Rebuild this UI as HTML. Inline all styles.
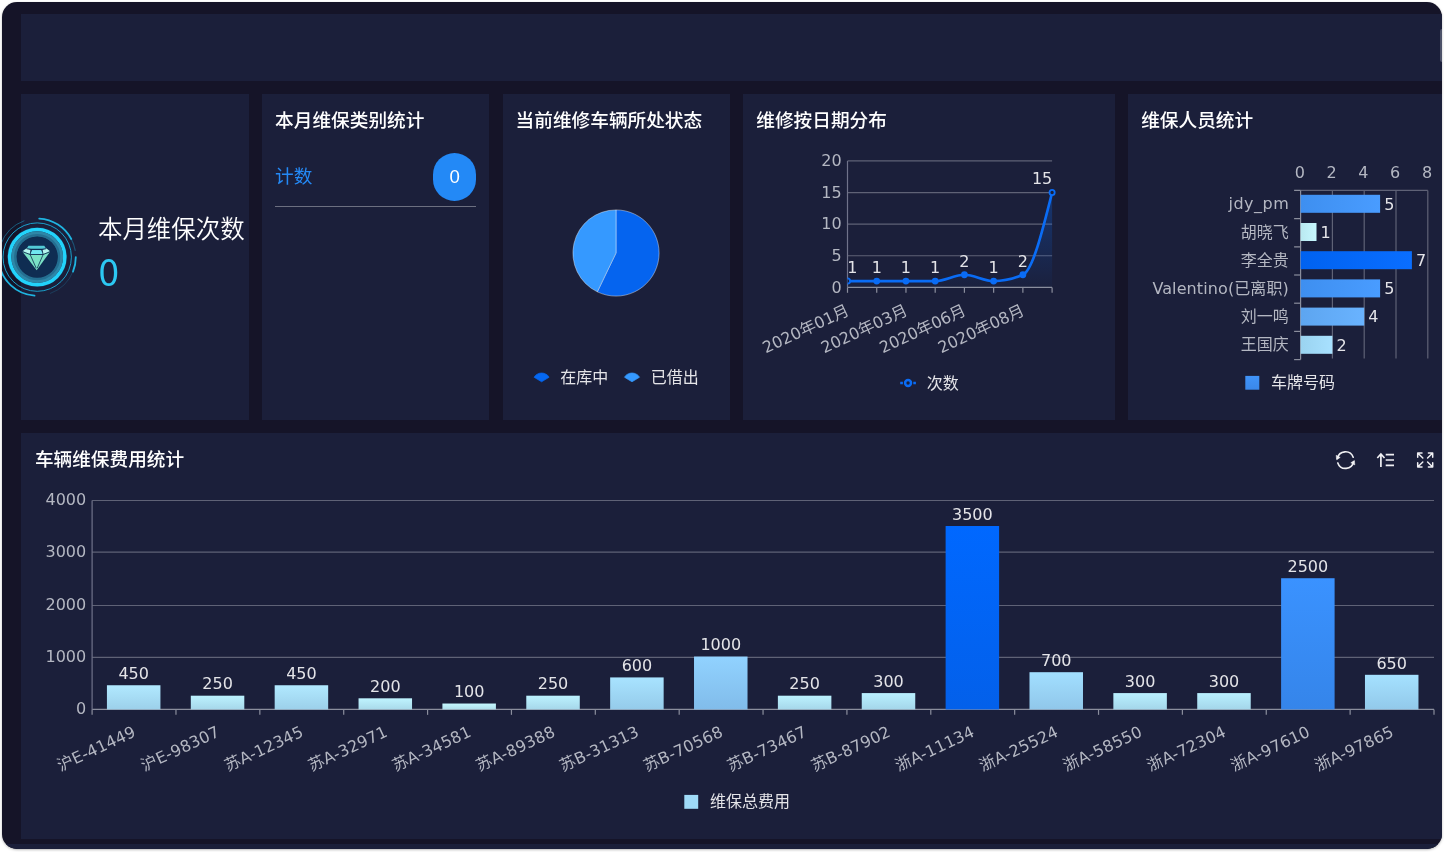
<!DOCTYPE html>
<html lang="zh-CN">
<head>
<meta charset="utf-8">
<title>车辆维保看板</title>
<style>
html,body{margin:0;padding:0;}
body{width:1444px;height:852px;overflow:hidden;background:#fff;position:relative;font-family:"Liberation Sans","Noto Sans CJK SC",sans-serif;}
#win{position:absolute;left:2.3px;top:2px;width:1439.6px;height:846.8px;border-radius:15px;background:#151428;overflow:hidden;box-shadow:0 1px 2.5px rgba(0,0,0,.28);}
#inner{position:absolute;left:-2.3px;top:-2px;width:1444px;height:852px;}
.p{position:absolute;background:#1b1f3a;}
.t{position:absolute;color:#fff;font-weight:500;font-size:18.67px;line-height:26px;white-space:nowrap;font-family:"Liberation Sans","Noto Sans CJK SC",sans-serif;}
svg{position:absolute;left:0;top:0;}
svg text{font-family:"DejaVu Sans","Noto Sans CJK SC",sans-serif;}
</style>
</head>
<body>
<div id="win"><div id="inner">
<div class="p" style="left:21px;top:14.2px;width:1423px;height:66.5px"></div>
<div class="p" style="left:21px;top:93.8px;width:227.7px;height:326.1px"></div>
<div class="p" style="left:262px;top:93.8px;width:227.2px;height:326.1px"></div>
<div class="p" style="left:502.5px;top:93.8px;width:227.2px;height:326.1px"></div>
<div class="p" style="left:743.2px;top:93.8px;width:371.7px;height:326.1px"></div>
<div class="p" style="left:1127.9px;top:93.8px;width:317px;height:326.1px"></div>
<div class="p" style="left:21px;top:433.2px;width:1423px;height:405.6px"></div>
<div class="p" style="left:0;top:843.5px;width:1444px;height:10px"></div>
<div style="position:absolute;left:1439.8px;top:29.3px;width:4px;height:32.3px;border-radius:2px;background:#4d5269"></div>

<div class="t" style="left:275.1px;top:108.1px">本月维保类别统计</div>
<div class="t" style="left:515.6px;top:108.1px">当前维修车辆所处状态</div>
<div class="t" style="left:756.3px;top:108.1px">维修按日期分布</div>
<div class="t" style="left:1141.2px;top:108.1px">维保人员统计</div>
<div class="t" style="left:34.9px;top:447.3px">车辆维保费用统计</div>

<div style="position:absolute;left:98px;top:213.1px;font-size:24.45px;line-height:34px;color:#fff;white-space:nowrap;font-weight:350">本月维保次数</div>
<div style="position:absolute;left:98.4px;top:242.5px;font-size:37px;line-height:54px;color:#2cc8f2;white-space:nowrap;font-family:'Noto Sans CJK SC',sans-serif;font-weight:400">0</div>

<div style="position:absolute;left:275.1px;top:163.9px;font-size:18.67px;line-height:26px;color:#2489f5;white-space:nowrap">计数</div>
<div style="position:absolute;left:433.2px;top:152.5px;width:42.8px;height:48.2px;border-radius:24px;background:#2389f6;color:#fff;font-size:18.67px;line-height:48.2px;text-align:center">0</div>
<div style="position:absolute;left:275.1px;top:206px;width:201px;height:1px;background:#6c6f80"></div>

<svg width="1444" height="852" viewBox="0 0 1444 852">
<defs>
<linearGradient id="ar" x1="0" y1="0" x2="0" y2="1"><stop offset="0" stop-color="#0a6cf5" stop-opacity="0.30"/><stop offset="1" stop-color="#0a6cf5" stop-opacity="0.02"/></linearGradient>
<clipPath id="lc"><rect x="847.5" y="154.9" width="209.1" height="132.5"/></clipPath>
<linearGradient id="hb0" x1="0" y1="0" x2="1" y2="0"><stop offset="0" stop-color="#3e8ff0"/><stop offset="1" stop-color="#499cff"/></linearGradient>
<linearGradient id="hb1" x1="0" y1="0" x2="1" y2="0"><stop offset="0" stop-color="#b9e9f0"/><stop offset="1" stop-color="#c7f8ff"/></linearGradient>
<linearGradient id="hb2" x1="0" y1="0" x2="1" y2="0"><stop offset="0" stop-color="#0062f0"/><stop offset="1" stop-color="#0a6eff"/></linearGradient>
<linearGradient id="hb3" x1="0" y1="0" x2="1" y2="0"><stop offset="0" stop-color="#3e8ff0"/><stop offset="1" stop-color="#499cff"/></linearGradient>
<linearGradient id="hb4" x1="0" y1="0" x2="1" y2="0"><stop offset="0" stop-color="#5da5f0"/><stop offset="1" stop-color="#69b3ff"/></linearGradient>
<linearGradient id="hb5" x1="0" y1="0" x2="1" y2="0"><stop offset="0" stop-color="#9ad3f0"/><stop offset="1" stop-color="#a8e1ff"/></linearGradient>
<linearGradient id="hbl" x1="0" y1="0" x2="0" y2="1"><stop offset="0" stop-color="#4093f8"/><stop offset="1" stop-color="#3a88ea"/></linearGradient>
<linearGradient id="vb0" x1="0" y1="0" x2="0" y2="1"><stop offset="0" stop-color="#b1e9ff"/><stop offset="1" stop-color="#9cd0ea"/></linearGradient>
<linearGradient id="vb1" x1="0" y1="0" x2="0" y2="1"><stop offset="0" stop-color="#bcf2ff"/><stop offset="1" stop-color="#a6d7ea"/></linearGradient>
<linearGradient id="vb2" x1="0" y1="0" x2="0" y2="1"><stop offset="0" stop-color="#b1e9ff"/><stop offset="1" stop-color="#9cd0ea"/></linearGradient>
<linearGradient id="vb3" x1="0" y1="0" x2="0" y2="1"><stop offset="0" stop-color="#bff4ff"/><stop offset="1" stop-color="#a9d9ea"/></linearGradient>
<linearGradient id="vb4" x1="0" y1="0" x2="0" y2="1"><stop offset="0" stop-color="#c5f8ff"/><stop offset="1" stop-color="#aeddea"/></linearGradient>
<linearGradient id="vb5" x1="0" y1="0" x2="0" y2="1"><stop offset="0" stop-color="#bcf2ff"/><stop offset="1" stop-color="#a6d7ea"/></linearGradient>
<linearGradient id="vb6" x1="0" y1="0" x2="0" y2="1"><stop offset="0" stop-color="#a8e3ff"/><stop offset="1" stop-color="#95cbea"/></linearGradient>
<linearGradient id="vb7" x1="0" y1="0" x2="0" y2="1"><stop offset="0" stop-color="#91d2ff"/><stop offset="1" stop-color="#81bcea"/></linearGradient>
<linearGradient id="vb8" x1="0" y1="0" x2="0" y2="1"><stop offset="0" stop-color="#bcf2ff"/><stop offset="1" stop-color="#a6d7ea"/></linearGradient>
<linearGradient id="vb9" x1="0" y1="0" x2="0" y2="1"><stop offset="0" stop-color="#b9f0ff"/><stop offset="1" stop-color="#a4d6ea"/></linearGradient>
<linearGradient id="vb10" x1="0" y1="0" x2="0" y2="1"><stop offset="0" stop-color="#0068ff"/><stop offset="1" stop-color="#0360ea"/></linearGradient>
<linearGradient id="vb11" x1="0" y1="0" x2="0" y2="1"><stop offset="0" stop-color="#a2dfff"/><stop offset="1" stop-color="#90c7ea"/></linearGradient>
<linearGradient id="vb12" x1="0" y1="0" x2="0" y2="1"><stop offset="0" stop-color="#b9f0ff"/><stop offset="1" stop-color="#a4d6ea"/></linearGradient>
<linearGradient id="vb13" x1="0" y1="0" x2="0" y2="1"><stop offset="0" stop-color="#b9f0ff"/><stop offset="1" stop-color="#a4d6ea"/></linearGradient>
<linearGradient id="vb14" x1="0" y1="0" x2="0" y2="1"><stop offset="0" stop-color="#3a92ff"/><stop offset="1" stop-color="#3585ea"/></linearGradient>
<linearGradient id="vb15" x1="0" y1="0" x2="0" y2="1"><stop offset="0" stop-color="#a5e1ff"/><stop offset="1" stop-color="#92c9ea"/></linearGradient>
</defs>
<g transform="translate(37.2,257.1)">
<path d="M2.02 -38.55A38.6 38.6 0 0 1 34.08 -18.12" fill="none" stroke="#1fb4e0" stroke-width="1.8" stroke-linecap="round" opacity="1"/>
<path d="M34.08 -18.12A38.6 38.6 0 0 1 38.01 -6.7" fill="none" stroke="#1fb4e0" stroke-width="1.2" stroke-linecap="round" opacity="0.35"/>
<path d="M38.6 -0A38.6 38.6 0 0 1 35.79 14.46" fill="none" stroke="#1fb4e0" stroke-width="1.8" stroke-linecap="round" opacity="1"/>
<path d="M35.79 14.46A38.6 38.6 0 0 1 13.2 36.27" fill="none" stroke="#1fb4e0" stroke-width="1.0" stroke-linecap="round" opacity="0.2"/>
<path d="M-2.69 38.51A38.6 38.6 0 0 1 -38.22 5.37" fill="none" stroke="#1fb4e0" stroke-width="1.8" stroke-linecap="round" opacity="1"/>
<path d="M-36.27 -13.2A38.6 38.6 0 0 1 -13.2 -36.27" fill="none" stroke="#1fb4e0" stroke-width="1.0" stroke-linecap="round" opacity="0.45"/>
<circle r="34.2" fill="none" stroke="#1a9fca" stroke-width="1"/>
<circle r="30" fill="#16304f"/>
<circle r="27.6" fill="none" stroke="#22d3fb" stroke-width="3.6"/>
<circle r="23.2" fill="none" stroke="#2d87a8" stroke-width="5.4"/>
<circle r="21.8" fill="none" stroke="#246f91" stroke-width="2.6"/>
<circle r="20.6" fill="#0f2d52"/>
<polygon points="-14.7,-5.38 12.92,-5.38 -0.51,13.11" fill="#7ae2c6"/>
<polygon points="-8.74,-11.34 7.09,-11.34 9,-8.43 -10.64,-8.43" fill="#52cbd6"/>
<polygon points="-10.64,-8.93 -6.33,-7.41 -7.22,-2.98 -14.7,-5.76" fill="#b4f6ee"/>
<polygon points="9,-8.93 4.94,-7.41 5.83,-2.98 12.92,-5.76" fill="#b4f6ee"/>
<polygon points="-5.38,-7.03 4.24,-7.03 5.19,-3.1 -6.33,-3.1" fill="#70e6f0"/>
<path d="M-14.57,-5.38L-7.09,-2.6L5.95,-2.6L12.92,-5.38" fill="none" stroke="#0f2d52" stroke-width="0.9"/>
<path d="M-7.09,-2.6L-1.01,11.09M0,11.09L5.95,-2.6" fill="none" stroke="#0f2d52" stroke-width="0.8"/>
<path d="M-10.64,-8.43L-6.02,-7.54L4.75,-7.54L9,-8.43M-6.02,-7.54L-7.09,-2.6M4.75,-7.54L5.95,-2.6" fill="none" stroke="#0f2d52" stroke-width="0.9"/>
</g>
<path d="M616 253L616 209.9A43.1 43.1 0 1 1 597.3 291.83Z" fill="#0564ef" stroke="rgba(255,255,255,0.45)" stroke-width="0.9" stroke-linejoin="round"/>
<path d="M616 253L597.3 291.83A43.1 43.1 0 0 1 616 209.9Z" fill="#3599ff" stroke="rgba(255,255,255,0.45)" stroke-width="0.9" stroke-linejoin="round"/>
<path d="M541.6 381.8L534.09 377.22A8.8 8.8 0 0 1 549.11 377.22Z" fill="#0567f1" stroke="#0567f1" stroke-width="0.7" stroke-linejoin="round"/>
<path d="M632 381.8L624.49 377.22A8.8 8.8 0 0 1 639.51 377.22Z" fill="#3599ff" stroke="#3599ff" stroke-width="0.7" stroke-linejoin="round"/>
<text x="560.3" y="382.7" font-size="16" fill="#e4e4e8">在库中</text>
<text x="650.7" y="382.7" font-size="16" fill="#e4e4e8">已借出</text>
<line x1="847.5" y1="287.4" x2="1052.1" y2="287.4" stroke="#8b8e9d" stroke-width="1.2"/>
<text x="841.7" y="292.7" font-size="16" fill="#b4b7c2" text-anchor="end">0</text>
<line x1="847.5" y1="255.77" x2="1052.1" y2="255.77" stroke="#5f6276" stroke-width="1.2"/>
<text x="841.7" y="261.07" font-size="16" fill="#b4b7c2" text-anchor="end">5</text>
<line x1="847.5" y1="224.15" x2="1052.1" y2="224.15" stroke="#5f6276" stroke-width="1.2"/>
<text x="841.7" y="229.45" font-size="16" fill="#b4b7c2" text-anchor="end">10</text>
<line x1="847.5" y1="192.53" x2="1052.1" y2="192.53" stroke="#5f6276" stroke-width="1.2"/>
<text x="841.7" y="197.83" font-size="16" fill="#b4b7c2" text-anchor="end">15</text>
<line x1="847.5" y1="160.9" x2="1052.1" y2="160.9" stroke="#5f6276" stroke-width="1.2"/>
<text x="841.7" y="166.2" font-size="16" fill="#b4b7c2" text-anchor="end">20</text>
<line x1="847.5" y1="160.9" x2="847.5" y2="287.4" stroke="#70738a" stroke-width="1.2"/>
<line x1="847.5" y1="287.4" x2="847.5" y2="292.8" stroke="#8b8e9d" stroke-width="1.2"/>
<line x1="876.73" y1="287.4" x2="876.73" y2="292.8" stroke="#8b8e9d" stroke-width="1.2"/>
<line x1="905.96" y1="287.4" x2="905.96" y2="292.8" stroke="#8b8e9d" stroke-width="1.2"/>
<line x1="935.19" y1="287.4" x2="935.19" y2="292.8" stroke="#8b8e9d" stroke-width="1.2"/>
<line x1="964.41" y1="287.4" x2="964.41" y2="292.8" stroke="#8b8e9d" stroke-width="1.2"/>
<line x1="993.64" y1="287.4" x2="993.64" y2="292.8" stroke="#8b8e9d" stroke-width="1.2"/>
<line x1="1022.87" y1="287.4" x2="1022.87" y2="292.8" stroke="#8b8e9d" stroke-width="1.2"/>
<line x1="1052.1" y1="287.4" x2="1052.1" y2="292.8" stroke="#8b8e9d" stroke-width="1.2"/>
<path d="M847.5 281.07C857.24 281.07 866.99 281.07 876.73 281.07C886.47 281.07 896.21 281.07 905.96 281.07C915.7 281.07 925.44 281.07 935.19 281.07C944.93 281.07 954.67 274.75 964.41 274.75C974.16 274.75 983.9 281.07 993.64 281.07C1003.39 281.07 1013.13 278.97 1022.87 274.75C1032.61 270.53 1042.36 231.53 1052.1 192.53L1052.1 287.4L847.5 287.4Z" fill="url(#ar)"/>
<g clip-path="url(#lc)"><path d="M847.5 281.07C857.24 281.07 866.99 281.07 876.73 281.07C886.47 281.07 896.21 281.07 905.96 281.07C915.7 281.07 925.44 281.07 935.19 281.07C944.93 281.07 954.67 274.75 964.41 274.75C974.16 274.75 983.9 281.07 993.64 281.07C1003.39 281.07 1013.13 278.97 1022.87 274.75C1032.61 270.53 1042.36 231.53 1052.1 192.53" fill="none" stroke="#0a6cf5" stroke-width="2.7" stroke-linejoin="round" stroke-linecap="round"/>
<circle cx="847.5" cy="281.07" r="2.6" fill="#1b1f3a" stroke="#0a6cf5" stroke-width="1.8"/>
<circle cx="876.73" cy="281.07" r="3.4" fill="#0a6cf5"/>
<circle cx="905.96" cy="281.07" r="3.4" fill="#0a6cf5"/>
<circle cx="935.19" cy="281.07" r="3.4" fill="#0a6cf5"/>
<circle cx="964.41" cy="274.75" r="3.4" fill="#0a6cf5"/>
<circle cx="993.64" cy="281.07" r="3.4" fill="#0a6cf5"/>
<circle cx="1022.87" cy="274.75" r="3.4" fill="#0a6cf5"/>
<circle cx="1052.1" cy="192.53" r="2.6" fill="#1b1f3a" stroke="#0a6cf5" stroke-width="1.8"/>
</g>
<text x="847.3" y="272.88" font-size="16" fill="#e4e4e8" text-anchor="start">1</text>
<text x="876.73" y="272.88" font-size="16" fill="#e4e4e8" text-anchor="middle">1</text>
<text x="905.96" y="272.88" font-size="16" fill="#e4e4e8" text-anchor="middle">1</text>
<text x="935.19" y="272.88" font-size="16" fill="#e4e4e8" text-anchor="middle">1</text>
<text x="964.41" y="266.55" font-size="16" fill="#e4e4e8" text-anchor="middle">2</text>
<text x="993.64" y="272.88" font-size="16" fill="#e4e4e8" text-anchor="middle">1</text>
<text x="1022.87" y="266.55" font-size="16" fill="#e4e4e8" text-anchor="middle">2</text>
<text x="1052.3" y="184.33" font-size="16" fill="#e4e4e8" text-anchor="end">15</text>
<text transform="translate(850.2,314.2) rotate(-25)" font-size="16" fill="#b4b7c2" text-anchor="end">2020年01月</text>
<text transform="translate(908.66,314.2) rotate(-25)" font-size="16" fill="#b4b7c2" text-anchor="end">2020年03月</text>
<text transform="translate(967.11,314.2) rotate(-25)" font-size="16" fill="#b4b7c2" text-anchor="end">2020年06月</text>
<text transform="translate(1025.57,314.2) rotate(-25)" font-size="16" fill="#b4b7c2" text-anchor="end">2020年08月</text>
<path d="M900.2 383H902.9M913.3 383H915.9" stroke="#0a6cf5" stroke-width="2.6" fill="none"/>
<circle cx="908.05" cy="383" r="2.95" fill="#1b1f3a" stroke="#0a6cf5" stroke-width="2.5"/>
<text x="926.8" y="388.6" font-size="16" fill="#e4e4e8">次数</text>
<text x="1299.8" y="178.2" font-size="16" fill="#b4b7c2" text-anchor="middle">0</text>
<text x="1331.6" y="178.2" font-size="16" fill="#b4b7c2" text-anchor="middle">2</text>
<line x1="1332.4" y1="190.4" x2="1332.4" y2="358.6" stroke="#5f6276" stroke-width="1.2"/>
<text x="1363.4" y="178.2" font-size="16" fill="#b4b7c2" text-anchor="middle">4</text>
<line x1="1364.2" y1="190.4" x2="1364.2" y2="358.6" stroke="#5f6276" stroke-width="1.2"/>
<text x="1395.2" y="178.2" font-size="16" fill="#b4b7c2" text-anchor="middle">6</text>
<line x1="1396" y1="190.4" x2="1396" y2="358.6" stroke="#5f6276" stroke-width="1.2"/>
<text x="1427" y="178.2" font-size="16" fill="#b4b7c2" text-anchor="middle">8</text>
<line x1="1427.8" y1="190.4" x2="1427.8" y2="358.6" stroke="#5f6276" stroke-width="1.2"/>
<line x1="1300.6" y1="190.4" x2="1427.8" y2="190.4" stroke="#5f6276" stroke-width="1.2"/>
<line x1="1300.6" y1="190.4" x2="1300.6" y2="359.6" stroke="#8b8e9d" stroke-width="1.2"/>
<line x1="1294.1" y1="190.4" x2="1300.6" y2="190.4" stroke="#8b8e9d" stroke-width="1.2"/>
<line x1="1294.1" y1="218.6" x2="1300.6" y2="218.6" stroke="#8b8e9d" stroke-width="1.2"/>
<line x1="1294.1" y1="246.8" x2="1300.6" y2="246.8" stroke="#8b8e9d" stroke-width="1.2"/>
<line x1="1294.1" y1="275" x2="1300.6" y2="275" stroke="#8b8e9d" stroke-width="1.2"/>
<line x1="1294.1" y1="303.2" x2="1300.6" y2="303.2" stroke="#8b8e9d" stroke-width="1.2"/>
<line x1="1294.1" y1="331.4" x2="1300.6" y2="331.4" stroke="#8b8e9d" stroke-width="1.2"/>
<line x1="1294.1" y1="359.6" x2="1300.6" y2="359.6" stroke="#8b8e9d" stroke-width="1.2"/>
<rect x="1300.6" y="194.8" width="79.5" height="18" fill="url(#hb0)"/>
<text x="1384.2" y="209.6" font-size="16" fill="#e4e4e8">5</text>
<text x="1288.8" y="209.4" font-size="16" fill="#b4b7c2" text-anchor="end" textLength="60.3">jdy_pm</text>
<rect x="1300.6" y="223" width="15.9" height="18" fill="url(#hb1)"/>
<text x="1320.6" y="237.8" font-size="16" fill="#e4e4e8">1</text>
<text x="1288.8" y="237.6" font-size="16" fill="#b4b7c2" text-anchor="end">胡晓飞</text>
<rect x="1300.6" y="251.2" width="111.3" height="18" fill="url(#hb2)"/>
<text x="1416" y="266" font-size="16" fill="#e4e4e8">7</text>
<text x="1288.8" y="265.8" font-size="16" fill="#b4b7c2" text-anchor="end">李全贵</text>
<rect x="1300.6" y="279.4" width="79.5" height="18" fill="url(#hb3)"/>
<text x="1384.2" y="294.2" font-size="16" fill="#e4e4e8">5</text>
<text x="1288.8" y="294" font-size="16" fill="#b4b7c2" text-anchor="end" textLength="136.4">Valentino(已离职)</text>
<rect x="1300.6" y="307.6" width="63.6" height="18" fill="url(#hb4)"/>
<text x="1368.3" y="322.4" font-size="16" fill="#e4e4e8">4</text>
<text x="1288.8" y="322.2" font-size="16" fill="#b4b7c2" text-anchor="end">刘一鸣</text>
<rect x="1300.6" y="335.8" width="31.8" height="18" fill="url(#hb5)"/>
<text x="1336.5" y="350.6" font-size="16" fill="#e4e4e8">2</text>
<text x="1288.8" y="350.4" font-size="16" fill="#b4b7c2" text-anchor="end">王国庆</text>
<rect x="1245.3" y="375.9" width="14" height="13.8" fill="url(#hbl)"/>
<text x="1271" y="387.8" font-size="16" fill="#e4e4e8">车牌号码</text>
<line x1="92.1" y1="709.45" x2="1434.0" y2="709.45" stroke="#8b8e9d" stroke-width="1.2"/>
<text x="86.2" y="714.3" font-size="16" fill="#b4b7c2" text-anchor="end">0</text>
<line x1="92.1" y1="657.3" x2="1434.0" y2="657.3" stroke="#5f6276" stroke-width="1.2"/>
<text x="86.2" y="662" font-size="16" fill="#b4b7c2" text-anchor="end">1000</text>
<line x1="92.1" y1="605.5" x2="1434.0" y2="605.5" stroke="#5f6276" stroke-width="1.2"/>
<text x="86.2" y="609.7" font-size="16" fill="#b4b7c2" text-anchor="end">2000</text>
<line x1="92.1" y1="552.1" x2="1434.0" y2="552.1" stroke="#5f6276" stroke-width="1.2"/>
<text x="86.2" y="557.4" font-size="16" fill="#b4b7c2" text-anchor="end">3000</text>
<line x1="92.1" y1="500.5" x2="1434.0" y2="500.5" stroke="#5f6276" stroke-width="1.2"/>
<text x="86.2" y="505.1" font-size="16" fill="#b4b7c2" text-anchor="end">4000</text>
<line x1="92.1" y1="500.6" x2="92.1" y2="709.45" stroke="#70738a" stroke-width="1.2"/>
<line x1="92.1" y1="709.45" x2="92.1" y2="714.85" stroke="#8b8e9d" stroke-width="1.2"/>
<line x1="175.97" y1="709.45" x2="175.97" y2="714.85" stroke="#8b8e9d" stroke-width="1.2"/>
<line x1="259.84" y1="709.45" x2="259.84" y2="714.85" stroke="#8b8e9d" stroke-width="1.2"/>
<line x1="343.71" y1="709.45" x2="343.71" y2="714.85" stroke="#8b8e9d" stroke-width="1.2"/>
<line x1="427.58" y1="709.45" x2="427.58" y2="714.85" stroke="#8b8e9d" stroke-width="1.2"/>
<line x1="511.44" y1="709.45" x2="511.44" y2="714.85" stroke="#8b8e9d" stroke-width="1.2"/>
<line x1="595.31" y1="709.45" x2="595.31" y2="714.85" stroke="#8b8e9d" stroke-width="1.2"/>
<line x1="679.18" y1="709.45" x2="679.18" y2="714.85" stroke="#8b8e9d" stroke-width="1.2"/>
<line x1="763.05" y1="709.45" x2="763.05" y2="714.85" stroke="#8b8e9d" stroke-width="1.2"/>
<line x1="846.92" y1="709.45" x2="846.92" y2="714.85" stroke="#8b8e9d" stroke-width="1.2"/>
<line x1="930.79" y1="709.45" x2="930.79" y2="714.85" stroke="#8b8e9d" stroke-width="1.2"/>
<line x1="1014.66" y1="709.45" x2="1014.66" y2="714.85" stroke="#8b8e9d" stroke-width="1.2"/>
<line x1="1098.53" y1="709.45" x2="1098.53" y2="714.85" stroke="#8b8e9d" stroke-width="1.2"/>
<line x1="1182.39" y1="709.45" x2="1182.39" y2="714.85" stroke="#8b8e9d" stroke-width="1.2"/>
<line x1="1266.26" y1="709.45" x2="1266.26" y2="714.85" stroke="#8b8e9d" stroke-width="1.2"/>
<line x1="1350.13" y1="709.45" x2="1350.13" y2="714.85" stroke="#8b8e9d" stroke-width="1.2"/>
<line x1="1434" y1="709.45" x2="1434" y2="714.85" stroke="#8b8e9d" stroke-width="1.2"/>
<rect x="106.93" y="685.25" width="53.5" height="24.2" fill="url(#vb0)"/>
<text x="133.68" y="678.95" font-size="16" fill="#e4e4e8" text-anchor="middle">450</text>
<text transform="translate(136.78,735.75) rotate(-25)" font-size="16" fill="#b4b7c2" text-anchor="end" textLength="84.3">沪E-41449</text>
<rect x="190.8" y="695.7" width="53.5" height="13.75" fill="url(#vb1)"/>
<text x="217.55" y="689.4" font-size="16" fill="#e4e4e8" text-anchor="middle">250</text>
<text transform="translate(220.65,735.75) rotate(-25)" font-size="16" fill="#b4b7c2" text-anchor="end" textLength="84.3">沪E-98307</text>
<rect x="274.67" y="685.25" width="53.5" height="24.2" fill="url(#vb2)"/>
<text x="301.42" y="678.95" font-size="16" fill="#e4e4e8" text-anchor="middle">450</text>
<text transform="translate(304.52,735.75) rotate(-25)" font-size="16" fill="#b4b7c2" text-anchor="end" textLength="84.8">苏A-12345</text>
<rect x="358.54" y="698.31" width="53.5" height="11.14" fill="url(#vb3)"/>
<text x="385.29" y="692.01" font-size="16" fill="#e4e4e8" text-anchor="middle">200</text>
<text transform="translate(388.39,735.75) rotate(-25)" font-size="16" fill="#b4b7c2" text-anchor="end" textLength="84.8">苏A-32971</text>
<rect x="442.41" y="703.53" width="53.5" height="5.92" fill="url(#vb4)"/>
<text x="469.16" y="697.23" font-size="16" fill="#e4e4e8" text-anchor="middle">100</text>
<text transform="translate(472.26,735.75) rotate(-25)" font-size="16" fill="#b4b7c2" text-anchor="end" textLength="84.8">苏A-34581</text>
<rect x="526.28" y="695.7" width="53.5" height="13.75" fill="url(#vb5)"/>
<text x="553.03" y="689.4" font-size="16" fill="#e4e4e8" text-anchor="middle">250</text>
<text transform="translate(556.13,735.75) rotate(-25)" font-size="16" fill="#b4b7c2" text-anchor="end" textLength="84.8">苏A-89388</text>
<rect x="610.15" y="677.42" width="53.5" height="32.03" fill="url(#vb6)"/>
<text x="636.9" y="671.12" font-size="16" fill="#e4e4e8" text-anchor="middle">600</text>
<text transform="translate(640,735.75) rotate(-25)" font-size="16" fill="#b4b7c2" text-anchor="end" textLength="85.2">苏B-31313</text>
<rect x="694.02" y="656.54" width="53.5" height="52.91" fill="url(#vb7)"/>
<text x="720.77" y="650.24" font-size="16" fill="#e4e4e8" text-anchor="middle">1000</text>
<text transform="translate(723.87,735.75) rotate(-25)" font-size="16" fill="#b4b7c2" text-anchor="end" textLength="85.2">苏B-70568</text>
<rect x="777.88" y="695.7" width="53.5" height="13.75" fill="url(#vb8)"/>
<text x="804.63" y="689.4" font-size="16" fill="#e4e4e8" text-anchor="middle">250</text>
<text transform="translate(807.73,735.75) rotate(-25)" font-size="16" fill="#b4b7c2" text-anchor="end" textLength="85.2">苏B-73467</text>
<rect x="861.75" y="693.09" width="53.5" height="16.36" fill="url(#vb9)"/>
<text x="888.5" y="686.79" font-size="16" fill="#e4e4e8" text-anchor="middle">300</text>
<text transform="translate(891.6,735.75) rotate(-25)" font-size="16" fill="#b4b7c2" text-anchor="end" textLength="85.2">苏B-87902</text>
<rect x="945.62" y="526.01" width="53.5" height="183.44" fill="url(#vb10)"/>
<text x="972.37" y="519.71" font-size="16" fill="#e4e4e8" text-anchor="middle">3500</text>
<text transform="translate(975.47,735.75) rotate(-25)" font-size="16" fill="#b4b7c2" text-anchor="end" textLength="84.8">浙A-11134</text>
<rect x="1029.49" y="672.2" width="53.5" height="37.25" fill="url(#vb11)"/>
<text x="1056.24" y="665.9" font-size="16" fill="#e4e4e8" text-anchor="middle">700</text>
<text transform="translate(1059.34,735.75) rotate(-25)" font-size="16" fill="#b4b7c2" text-anchor="end" textLength="84.8">浙A-25524</text>
<rect x="1113.36" y="693.09" width="53.5" height="16.36" fill="url(#vb12)"/>
<text x="1140.11" y="686.79" font-size="16" fill="#e4e4e8" text-anchor="middle">300</text>
<text transform="translate(1143.21,735.75) rotate(-25)" font-size="16" fill="#b4b7c2" text-anchor="end" textLength="84.8">浙A-58550</text>
<rect x="1197.23" y="693.09" width="53.5" height="16.36" fill="url(#vb13)"/>
<text x="1223.98" y="686.79" font-size="16" fill="#e4e4e8" text-anchor="middle">300</text>
<text transform="translate(1227.08,735.75) rotate(-25)" font-size="16" fill="#b4b7c2" text-anchor="end" textLength="84.8">浙A-72304</text>
<rect x="1281.1" y="578.22" width="53.5" height="131.23" fill="url(#vb14)"/>
<text x="1307.85" y="571.92" font-size="16" fill="#e4e4e8" text-anchor="middle">2500</text>
<text transform="translate(1310.95,735.75) rotate(-25)" font-size="16" fill="#b4b7c2" text-anchor="end" textLength="84.8">浙A-97610</text>
<rect x="1364.97" y="674.81" width="53.5" height="34.64" fill="url(#vb15)"/>
<text x="1391.72" y="668.51" font-size="16" fill="#e4e4e8" text-anchor="middle">650</text>
<text transform="translate(1394.82,735.75) rotate(-25)" font-size="16" fill="#b4b7c2" text-anchor="end" textLength="84.8">浙A-97865</text>
<rect x="684.3" y="794.9" width="13.9" height="13.9" fill="#9fdaf7"/>
<text x="710" y="807.4" font-size="16" fill="#e4e4e8">维保总费用</text>
<g transform="translate(1345.5,460.1)" fill="none" stroke="#f0f0f3" stroke-width="1.6" stroke-linecap="round" stroke-linejoin="round"><path d="M-8.1 -1.6A8.2 8.2 0 0 1 7.7 -2.8"/><path d="M8.1 1.6A8.2 8.2 0 0 1 -7.7 2.8"/></g>
<path d="M1336.2 455.3L1340.2 457.4L1336.6 459.7Z" fill="#f0f0f3" stroke="#f0f0f3" stroke-width="0.5" stroke-linejoin="round"/>
<path d="M1354.8 464.9L1350.8 462.8L1354.4 460.5Z" fill="#f0f0f3" stroke="#f0f0f3" stroke-width="0.5" stroke-linejoin="round"/>
<g fill="none" stroke="#f0f0f3" stroke-width="1.7" stroke-linecap="butt" stroke-linejoin="miter"><path d="M1380.9 467V454.6M1377.3 458L1380.9 454L1384.5 458"/><path d="M1385.7 454.7H1394M1385.7 460H1394M1385.7 465.4H1394"/></g>
<g fill="none" stroke="#f0f0f3" stroke-width="1.5" stroke-linecap="round" stroke-linejoin="round"><path d="M1417.7 457.2V452.9H1422M1418 453.2L1422.8 458"/><path d="M1432.7 457.2V452.9H1428.4M1432.4 453.2L1427.6 458"/><path d="M1417.7 462.8V467.1H1422M1418 466.8L1422.8 462"/><path d="M1432.7 462.8V467.1H1428.4M1432.4 466.8L1427.6 462"/></g>
</svg>
</div></div>
</body>
</html>
